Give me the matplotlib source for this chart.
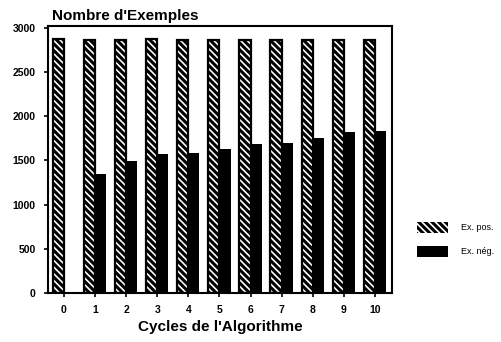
import matplotlib
matplotlib.use("Agg")
import matplotlib.pyplot as plt
import numpy as np
from matplotlib.patches import Patch

cycles = [0, 1, 2, 3, 4, 5, 6, 7, 8, 9, 10]
ex_pos = [2870, 2865, 2865, 2870, 2865, 2860, 2865, 2860, 2860, 2865, 2865]
ex_neg = [0, 1345, 1490, 1575, 1585, 1625, 1685, 1695, 1750, 1825, 1835]
yticks = [0, 500, 1000, 1500, 2000, 2500, 3000]

plt.rcParams['font.family'] = ['Liberation Sans', 'DejaVu Sans']
plt.rcParams['hatch.color'] = 'white'
plt.rcParams['hatch.linewidth'] = 1.2

fig = plt.figure(figsize=(5.02, 3.42), dpi=100)
ax = fig.add_axes([0.0956, 0.1433, 0.6854, 0.7807])

x = np.array(cycles, dtype=float)
w = 0.36
hatch = '\\' * 5
ax.bar(x - w / 2, ex_pos, width=w, color='black', linewidth=0, hatch=hatch)
ax.bar(x - w / 2, ex_pos, width=w, fill=False, edgecolor='black', linewidth=1.6)
ax.bar(x + w / 2, ex_neg, width=w, color='black', linewidth=0)

ax.set_xlim(-0.51, 10.55)
ax.set_ylim(0, 3020)
ax.set_xticks(x)
ax.set_xticklabels([str(c) for c in cycles], fontsize=7.5, fontweight='bold')
ax.set_yticks(yticks)
ax.set_yticklabels([str(v) for v in yticks], fontsize=7.5, fontweight='bold')
ax.tick_params(axis='both', direction='out', length=3, width=1.2, pad=6)
for s in ax.spines.values():
    s.set_linewidth(1.5)

fig.text(52 / 502, 1 - 20 / 342, "Nombre d'Exemples", fontsize=11,
         fontweight='bold', ha='left', va='baseline')
ax.set_xlabel("Cycles de l'Algorithme", fontsize=11, fontweight='bold', labelpad=3)

handles = [Patch(facecolor='black', linewidth=0, hatch='\\' * 5),
           Patch(facecolor='black', linewidth=0)]
fig.legend(handles, ['Ex. pos.', 'Ex. nég.'], loc='center left',
           bbox_to_anchor=(0.815, 0.30), frameon=False, fontsize=6.5,
           handlelength=3.4, handleheight=1.4, handletextpad=1.4,
           labelspacing=1.5)

fig.savefig('out.png', dpi=100)
